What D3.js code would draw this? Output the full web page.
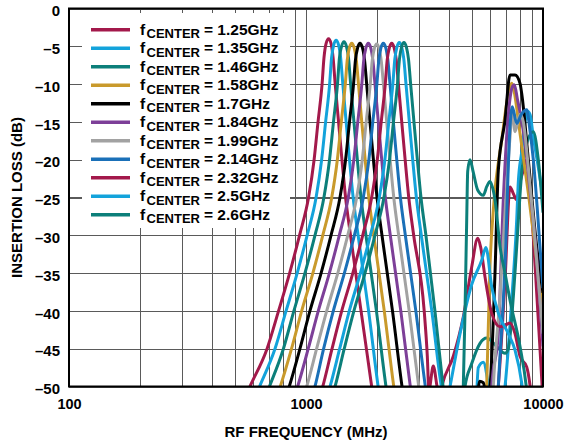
<!DOCTYPE html>
<html>
<head>
<meta charset="utf-8">
<script src="https://cdn.jsdelivr.net/npm/d3@7"></script>
<style>
  body { margin: 0; background: #fff; }
  svg text { font-family: "Liberation Sans", Arial, Helvetica, sans-serif; font-weight: bold; fill: #000; }
  .grid line { stroke: #5a5a5a; stroke-width: 1.1; shape-rendering: crispEdges; }
  .grid .domain { display: none; }
</style>
</head>
<body>
<div id="chart"></div>
<script>
// [MHz, dB] points, one array per fCENTER setting
const c125 = [[450,-58],[580,-50],[685,-45],[766,-40],[853,-35],[939,-30],[1025,-25],[1082,-20],[1124,-15],[1169,-10],[1191,-6.5],[1216,-4.6],[1245,-4.0],[1275,-4.6],[1301,-6.5],[1328,-10],[1372,-15],[1418,-20],[1469,-25],[1541,-30],[1707,-40],[1893,-50],[2050,-58],
  [6100,-58],[6478,-50],[6914,-36],[7258,-23.6],[7500,-24.5],[7745,-25.3],[8000,-23],[8259,-21.4],[8535,-20],[8812,-24],[9300,-35],[9712,-45],[10000,-52]];
const c135 = [[495,-58],[637,-50],[740,-45],[824,-40],[918,-35],[1011,-30],[1103,-25],[1164,-20],[1210,-15],[1258,-10],[1282,-6.5],[1309,-4.8],[1340,-4.2],[1372,-4.8],[1400,-6.5],[1430,-10],[1477,-15],[1526,-20],[1581,-25],[1659,-30],[1837,-40],[2015,-50],[2200,-58],
  [5150,-56],[5333,-47.5],[5600,-46.8],[5900,-50],[6300,-56],[6914,-50],[7400,-38],[7745,-28],[7866,-23],[8128,-19],[8400,-15],[8600,-13.6],[8812,-14],[9102,-17],[9554,-21],[10000,-25]];
const c146 = [[545,-58],[701,-50],[803,-45],[889,-40],[990,-35],[1091,-30],[1190,-25],[1257,-20],[1306,-15],[1358,-10],[1384,-6.5],[1413,-5.0],[1446,-4.4],[1481,-5.0],[1511,-6.5],[1543,-10],[1593,-15],[1647,-20],[1706,-25],[1790,-30],[1982,-40],[2175,-50],[2380,-58],
  [4500,-58],[4688,-50],[5000,-47],[5423,-44.3],[5786,-43.6],[6375,-44.7],[6914,-45.6],[7140,-45],[7500,-38],[7745,-31.5],[8128,-21.8],[8600,-17.5],[9102,-16.3],[9554,-20],[10000,-27]];
const c158 = [[605,-58],[779,-50],[869,-45],[959,-40],[1069,-35],[1177,-30],[1284,-25],[1356,-20],[1409,-15],[1465,-10],[1493,-6.8],[1524,-5.2],[1560,-4.6],[1597,-5.2],[1630,-6.8],[1665,-10],[1719,-15],[1777,-20],[1841,-25],[1931,-30],[2139,-40],[2346,-50],[2560,-58],
  [5600,-58],[5786,-50],[5976,-34],[6170,-26.7],[6696,-17.4],[7258,-10.3],[7379,-9.9],[7500,-10.5],[7998,-16.5],[8670,-24.4],[9406,-33.3],[10000,-40.3]];
const c170 = [[660,-58],[850,-50],[943,-45],[1039,-40],[1158,-35],[1275,-30],[1391,-25],[1469,-20],[1526,-15],[1587,-10],[1617,-6.8],[1651,-5.2],[1690,-4.6],[1731,-5.2],[1766,-6.8],[1803,-10],[1862,-15],[1925,-20],[1994,-25],[2092,-30],[2317,-40],[2542,-50],[2780,-58],
  [5150,-56],[5400,-49.3],[5600,-49.5],[5800,-52],[5976,-50],[6273,-35],[6478,-21.4],[6914,-14.8],[7258,-8.8],[7620,-8.8],[7998,-9.9],[8128,-11.2],[8670,-20],[9406,-31.5],[10000,-37.6]];
const c184 = [[720,-58],[922,-50],[1022,-45],[1127,-40],[1255,-35],[1382,-30],[1508,-25],[1592,-20],[1654,-15],[1720,-10],[1753,-6.8],[1790,-5.2],[1832,-4.6],[1876,-5.2],[1914,-6.8],[1955,-10],[2019,-15],[2087,-20],[2162,-25],[2268,-30],[2512,-40],[2755,-50],[3000,-58],
  [5900,-58],[6074,-50],[6478,-43],[6800,-25.3],[7100,-15],[7400,-10.5],[7567,-10.1],[7800,-12],[8397,-17.8],[8812,-24],[9406,-33],[9712,-39],[10000,-44.7]];
const c199 = [[785,-58],[1007,-50],[1109,-45],[1223,-40],[1362,-35],[1500,-30],[1636,-25],[1728,-20],[1795,-15],[1867,-10],[1903,-6.9],[1942,-5.3],[1988,-4.7],[2036,-5.3],[2077,-6.9],[2121,-10],[2191,-15],[2264,-20],[2346,-25],[2461,-30],[2725,-40],[2990,-50],[3250,-58],
  [6000,-58],[6170,-50],[6587,-38],[6914,-27],[7258,-17],[7422,-13.5],[7620,-16.3],[8000,-14],[8259,-15],[8670,-21],[9102,-28],[9554,-36],[10000,-43]];
const c214 = [[850,-58],[1091,-50],[1187,-45],[1304,-40],[1452,-35],[1600,-30],[1745,-25],[1842,-20],[1914,-15],[1991,-10],[2029,-6.8],[2071,-5.2],[2120,-4.6],[2171,-5.2],[2215,-6.8],[2262,-10],[2336,-15],[2415,-20],[2502,-25],[2625,-30],[2907,-40],[3188,-50],[3480,-58],
  [6300,-58],[6478,-50],[6914,-34],[7258,-15.6],[7422,-13],[7745,-15.2],[8100,-14],[8535,-13.4],[8800,-16],[9102,-20],[9712,-31.5],[10000,-37]];
const c232 = [[915,-58],[1177,-50],[1288,-45],[1415,-40],[1576,-35],[1735,-30],[1893,-25],[1999,-20],[2077,-15],[2160,-10],[2201,-6.8],[2247,-5.2],[2300,-4.6],[2355,-5.2],[2404,-6.8],[2454,-10],[2535,-15],[2620,-20],[2714,-25],[2847,-30],[3153,-40],[3250,-46],[3300,-50.5],[3444,-47.3],[3600,-50.5],[3680,-51],
  [3738,-50],[4183,-46],[4610,-40.8],[5003,-34.2],[5303,-30.4],[5450,-31.5],[5692,-35.5],[6074,-40.3],[6587,-42.1],[7000,-41.8],[7258,-41.6],[7620,-43],[7998,-46],[8535,-47.4],[8812,-49.8],[9200,-56]];
const c250 = [[985,-58],[1263,-50],[1387,-45],[1523,-40],[1696,-35],[1868,-30],[2038,-25],[2152,-20],[2236,-15],[2325,-10],[2370,-6.7],[2419,-5.1],[2476,-4.5],[2535,-5.1],[2587,-6.7],[2642,-10],[2729,-15],[2820,-20],[2922,-25],[3065,-30],[3395,-40],[3724,-50],[3880,-53],
  [4052,-50],[4466,-43],[5003,-36.5],[5513,-33.3],[5740,-31.6],[6074,-36.8],[6478,-40.3],[7140,-43],[7620,-45.2],[8128,-49.5],[8500,-55]];
const c260 = [[1035,-58],[1326,-50],[1450,-45],[1593,-40],[1774,-35],[1954,-30],[2132,-25],[2251,-20],[2339,-15],[2432,-10],[2479,-6.7],[2530,-5.1],[2590,-4.5],[2652,-5.1],[2707,-6.7],[2764,-10],[2854,-15],[2950,-20],[3056,-25],[3206,-30],[3500,-40],[3786,-50],[4000,-56],
  [4500,-56],[4610,-50],[4688,-40],[4765,-28],[4812,-21.5],[4920,-20],[5066,-21.5],[5300,-24],[5599,-24.7],[5800,-23.5],[5976,-22.9],[6100,-23.5],[6273,-25.3],[6587,-31.5],[6914,-35],[7258,-38.6],[7998,-44.7],[8500,-50],[8800,-55]];

const centerLabels = ["1.25GHz", "1.35GHz", "1.46GHz", "1.58GHz", "1.7GHz", "1.84GHz", "1.99GHz", "2.14GHz", "2.32GHz", "2.5GHz", "2.6GHz"];
const seriesColors = ["#a3194b", "#13a3db", "#0c7f7a", "#c99a2c", "#000000", "#7d3f98", "#a2a2a2", "#1a70b8", "#a3194b", "#13a3db", "#0c7f7a"];
const yTickValues = [0, -5, -10, -15, -20, -25, -30, -35, -40, -45, -50];
const xTickLabels = [100, 1000, 10000];

const curves = [c125, c135, c146, c158, c170, c184, c199, c214, c232, c250, c260];

const width = 567, height = 444;
const margin = {top: 8.5, right: 24, bottom: 57.5, left: 69};
const innerW = width - margin.left - margin.right;
const innerH = height - margin.top - margin.bottom;

const svg = d3.select('#chart').append('svg')
    .attr('width', width)
    .attr('height', height);

const chart = svg.append('g')
    .attr('transform', `translate(${margin.left},${margin.top})`);

const xScale = d3.scaleLog().domain([100, 10000]).range([0, innerW]);
const yScale = d3.scaleLinear().domain([-50, 0]).range([innerH, 0]);

// Gridlines (every 100s/1000s and every 5 dB)
chart.append('g')
    .attr('class', 'grid')
    .attr('transform', `translate(0,${innerH})`)
    .call(d3.axisBottom(xScale).tickValues(xScale.ticks()).tickSize(-innerH).tickFormat(''));

chart.append('g')
    .attr('class', 'grid')
    .call(d3.axisLeft(yScale).tickValues(yTickValues).tickSize(-innerW).tickFormat(''));

// Tick labels
const xLabels = chart.append('g')
    .attr('transform', `translate(0,${innerH})`)
    .call(d3.axisBottom(xScale).tickValues(xTickLabels).tickSize(0).tickPadding(12).tickFormat(d3.format('d')));
xLabels.select('.domain').remove();
xLabels.selectAll('text').style('font-size', '14.5px').attr('font-family', null);

const yLabels = chart.append('g')
    .call(d3.axisLeft(yScale).tickValues(yTickValues).tickSize(0).tickPadding(9)
        .tickFormat(d => d === 0 ? '0' : '\u2013' + Math.abs(d)));
yLabels.select('.domain').remove();
yLabels.selectAll('text').style('font-size', '15px').attr('dy', '0.48em');

// Legend box hides grid behind it
const legend = chart.append('g').attr('transform', 'translate(13,4.5)');
legend.append('rect')
    .attr('width', 208).attr('height', 215)
    .attr('fill', '#fff');

// Curves
chart.append('clipPath').attr('id', 'plot-clip')
    .append('rect').attr('width', innerW).attr('height', innerH);

const line = d3.line()
    .x(d => xScale(d[0]))
    .y(d => yScale(d[1]))
    .curve(d3.curveMonotoneX);

chart.append('g')
    .attr('clip-path', 'url(#plot-clip)')
    .selectAll('path')
    .data(curves)
    .join('path')
    .attr('fill', 'none')
    .attr('stroke', (d, i) => seriesColors[i])
    .attr('stroke-width', 3)
    .attr('stroke-linejoin', 'round')
    .attr('d', line);

// Legend entries
const rows = legend.selectAll('g.row')
    .data(centerLabels)
    .join('g')
    .attr('class', 'row')
    .attr('transform', (d, i) => `translate(0,${16.7 + i * 18.5})`);

rows.append('line')
    .attr('x1', 9).attr('x2', 48)
    .attr('stroke', (d, i) => seriesColors[i])
    .attr('stroke-width', 3.4);

const label = rows.append('text').attr('y', 5);
label.append('tspan').attr('x', 58).style('font-size', '15.5px').text('f');
label.append('tspan').attr('x', 64.5).attr('dy', 3.5).style('font-size', '13px').text('CENTER');
label.append('tspan').attr('x', 122).attr('dy', -3.5).style('font-size', '15.5px').text(d => '= ' + d);

// Plot frame
chart.append('rect')
    .attr('width', innerW).attr('height', innerH)
    .attr('fill', 'none')
    .attr('stroke', '#000')
    .attr('stroke-width', 2);

// Axis titles
svg.append('text')
    .attr('x', margin.left + innerW / 2)
    .attr('y', 437)
    .attr('text-anchor', 'middle')
    .style('font-size', '15px')
    .text('RF FREQUENCY (MHz)');

svg.append('text')
    .attr('transform', `translate(22,${margin.top + innerH / 2}) rotate(-90)`)
    .attr('text-anchor', 'middle')
    .style('font-size', '15px')
    .text('INSERTION LOSS (dB)');
</script>
</body>
</html>
